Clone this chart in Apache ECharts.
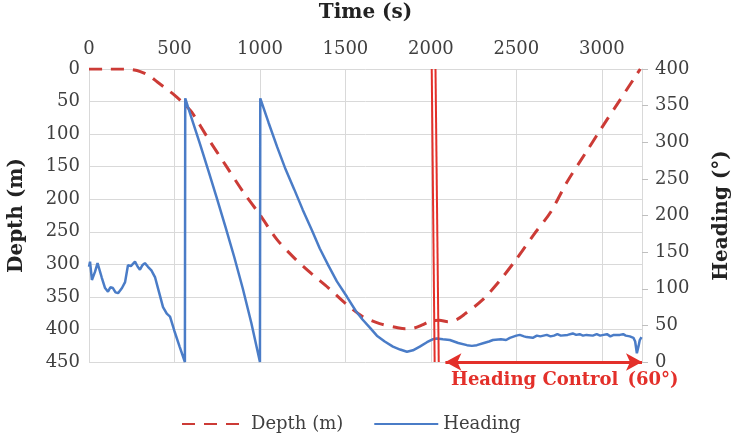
<!DOCTYPE html>
<html>
<head>
<meta charset="utf-8">
<script src="https://cdn.jsdelivr.net/npm/echarts@6/dist/echarts.min.js"></script>
<style>
  html, body { margin: 0; padding: 0; background: #fff; }
  #chart { width: 732px; height: 434px; }
</style>
</head>
<body>
<div id="chart"></div>
<script>
// Depth profile of the dive: [time (s), depth (m)]
const depthData = [
  [0, 0], [100, 0], [200, 0], [250, 1], [300, 4], [350, 10], [400, 20], [450, 30],
  [500, 40], [550, 52], [600, 66], [700, 108], [800, 148], [900, 188], [1000, 224],
  [1100, 262], [1200, 290], [1300, 314], [1400, 336], [1500, 360], [1600, 380],
  [1700, 391], [1800, 397], [1850, 399], [1900, 398], [1950, 393], [2000, 387],
  [2050, 386], [2100, 388], [2150, 385], [2200, 376], [2300, 355], [2400, 326],
  [2500, 292], [2600, 255], [2700, 220], [2800, 172], [2900, 131], [3000, 90],
  [3100, 50], [3150, 30], [3200, 10], [3225, 0]
];

// Vehicle heading: [time (s), heading (deg)]
const headingData = [
  [0, 130], [6, 137], [17, 112], [35, 123], [50, 135], [58, 137], [75, 115], [94, 101],
  [111, 96], [125, 102], [140, 101], [155, 95], [170, 94], [193, 101], [211, 109],
  [228, 132], [245, 131], [269, 137], [285, 130], [298, 126], [312, 132], [327, 135],
  [345, 130], [365, 125], [386, 116], [410, 95], [433, 75], [455, 66], [474, 62],
  [500, 42], [530, 21], [561, 0], [563, 360], [600, 333], [650, 297], [700, 260],
  [750, 222], [800, 183], [850, 143], [900, 100], [950, 53], [1000, 0], [1002, 360],
  [1050, 327], [1100, 294], [1150, 263], [1200, 236], [1250, 208], [1304, 180],
  [1350, 155], [1400, 132], [1450, 110], [1509, 89], [1560, 70], [1600, 58], [1643, 47],
  [1684, 36], [1730, 28], [1778, 21], [1820, 17], [1860, 14], [1895, 16], [1935, 21],
  [1977, 27], [2010, 31], [2035, 32], [2070, 31], [2111, 30], [2160, 26], [2211, 23],
  [2240, 22], [2269, 23], [2310, 26], [2340, 28], [2363, 30], [2410, 31], [2440, 30],
  [2462, 33], [2500, 36], [2520, 37], [2545, 35], [2560, 34], [2596, 33], [2620, 36],
  [2640, 35], [2678, 37], [2700, 35], [2720, 36], [2740, 38], [2760, 36], [2800, 37],
  [2830, 39], [2850, 37], [2870, 38], [2890, 36], [2910, 37], [2947, 36], [2970, 38],
  [2990, 36], [3010, 37], [3030, 38], [3050, 35], [3070, 37], [3105, 37], [3125, 38],
  [3140, 36], [3164, 35], [3185, 33], [3195, 28], [3205, 12], [3215, 22], [3222, 30],
  [3232, 34]
];

// Twin slanted strokes marking the start of heading control
const breakA = [[2005, 0], [2022, 450]];
const breakB = [[2027, 0], [2046, 450]];

// Heading-control interval (time range) on the heading axis
const controlSpan = [2085, 3235];
const controlLabel = 'Heading Control\u2002(60°)';

const timeTicks = { min: 0, max: 3235, interval: 500 };
const depthTicks = { min: 0, max: 450, interval: 50 };
const headingTicks = { min: 0, max: 400, interval: 50 };

const FONT = 'DejaVu Serif';
const GRID_LINE = '#d9d9d9';
const TEXT = '#404040';
const RED = '#e3302a';

const chart = echarts.init(document.getElementById('chart'));

chart.setOption({
  animation: false,
  backgroundColor: '#ffffff',
  grid: { left: 89, right: 90, top: 69, bottom: 72, containLabel: false, outerBoundsMode: 'none' },
  legend: {
    data: ['Depth (m)', 'Heading'],
    left: 176,
    top: 410,
    itemWidth: 64,
    itemHeight: 14,
    itemGap: 30,
    itemStyle: { opacity: 0 },
    textStyle: { fontFamily: FONT, fontSize: 18, color: TEXT }
  },
  xAxis: {
    type: 'value',
    position: 'top',
    min: timeTicks.min,
    max: timeTicks.max,
    interval: timeTicks.interval,
    name: 'Time (s)',
    nameLocation: 'middle',
    nameGap: 46,
    nameTextStyle: { fontFamily: FONT, fontSize: 20, fontWeight: 'bold', color: '#222' },
    axisLine: { show: false },
    axisTick: { show: false },
    axisLabel: {
      margin: 11,
      fontFamily: FONT,
      fontSize: 18,
      color: TEXT,
      formatter: v => (v % 500 === 0 ? String(v) : '')
    },
    splitLine: { show: true, lineStyle: { color: GRID_LINE, width: 1 } }
  },
  yAxis: [
    {
      type: 'value',
      inverse: true,
      min: depthTicks.min,
      max: depthTicks.max,
      interval: depthTicks.interval,
      name: 'Depth (m)',
      nameLocation: 'middle',
      nameGap: 62,
      nameTextStyle: { fontFamily: FONT, fontSize: 20, fontWeight: 'bold', color: '#222' },
      axisLine: { show: false },
      axisTick: { show: false },
      axisLabel: { margin: 9, fontFamily: FONT, fontSize: 18, color: TEXT },
      splitLine: { show: true, lineStyle: { color: GRID_LINE, width: 1 } }
    },
    {
      type: 'value',
      position: 'right',
      min: headingTicks.min,
      max: headingTicks.max,
      interval: headingTicks.interval,
      name: 'Heading (°)',
      nameLocation: 'middle',
      nameGap: 70,
      nameRotate: 90,
      nameTextStyle: { fontFamily: FONT, fontSize: 20, fontWeight: 'bold', color: '#222' },
      axisLine: { show: true, lineStyle: { color: GRID_LINE, width: 1 } },
      axisTick: { show: true, length: 6, lineStyle: { color: '#bfbfbf' } },
      axisLabel: { margin: 13, fontFamily: FONT, fontSize: 18, color: TEXT },
      splitLine: { show: false }
    }
  ],
  series: [
    {
      name: 'Depth (m)',
      type: 'line',
      yAxisIndex: 0,
      data: depthData,
      symbol: 'none',
      smooth: 0.3,
      lineStyle: { color: '#cc3b36', width: 3, type: [13, 9] },
      itemStyle: { color: '#cc3b36' },
      z: 3
    },
    {
      name: 'Heading',
      type: 'line',
      yAxisIndex: 1,
      data: headingData,
      symbol: 'none',
      clip: false,
      lineStyle: { color: '#4a7cc7', width: 2.5 },
      itemStyle: { color: '#4a7cc7' },
      z: 4,
      markLine: {
        silent: true,
        symbol: ['arrow', 'arrow'],
        symbolSize: [13, 16],
        lineStyle: { color: RED, width: 3, type: 'solid' },
        label: {
          show: true,
          position: 'insideMiddleBottom',
          formatter: controlLabel,
          distance: 9,
          padding: [0, 0, 0, 42],
          fontFamily: FONT,
          fontSize: 18,
          fontWeight: 'bold',
          color: RED
        },
        data: [[
          { coord: [controlSpan[0], 0] },
          { coord: [controlSpan[1], 0] }
        ]]
      }
    },
    {
      name: 'breakA',
      type: 'line',
      yAxisIndex: 0,
      data: breakA,
      symbol: 'none',
      silent: true,
      lineStyle: { color: RED, width: 2 },
      z: 5
    },
    {
      name: 'breakB',
      type: 'line',
      yAxisIndex: 0,
      data: breakB,
      symbol: 'none',
      silent: true,
      lineStyle: { color: RED, width: 2 },
      z: 5
    }
  ]
});
</script>
</body>
</html>
